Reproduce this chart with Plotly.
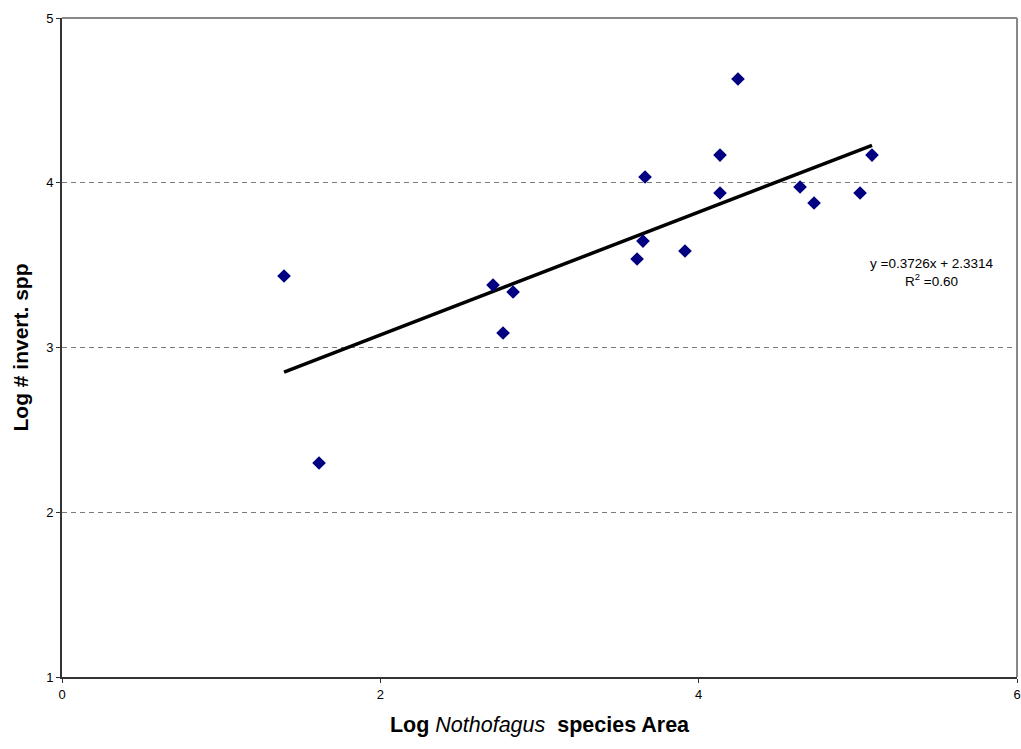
import plotly.graph_objects as go

log_area = [1.395, 1.615, 2.708, 2.771, 2.834, 3.613, 3.650, 3.663, 3.914,
            4.134, 4.134, 4.247, 4.637, 4.725, 5.014, 5.089]
log_spp = [3.434, 2.299, 3.379, 3.088, 3.337, 3.537, 3.646, 4.035, 3.586,
           3.938, 4.168, 4.630, 3.974, 3.877, 3.938, 4.168]
slope = 0.3726
intercept = 2.3314
r2 = 0.60

x_fit = [min(log_area), max(log_area)]
y_fit = [slope * v + intercept for v in x_fit]

fig = go.Figure()
fig.add_trace(go.Scatter(x=x_fit, y=y_fit, mode="lines",
                         line=dict(color="black", width=3.5), hoverinfo="skip",
                         showlegend=False))
fig.add_trace(go.Scatter(x=log_area, y=log_spp, mode="markers",
                         marker=dict(symbol="diamond", size=10.5, color="#000080",
                                     line=dict(width=0)),
                         showlegend=False))

fig.add_annotation(x=5.466, y=3.458, xref="x", yref="y",
                   text=f"y =0.3726x + 2.3314<br>R<sup>2</sup> ={r2:.2f}",
                   showarrow=False, align="center",
                   font=dict(family="Liberation Sans, Arial", size=13.5, color="black"))

font = dict(family="Liberation Sans, Arial", size=13, color="black")
fig.update_layout(
    width=1021, height=749,
    margin=dict(l=62, r=4, t=18, b=72),
    paper_bgcolor="white", plot_bgcolor="white",
    font=font,
    xaxis=dict(range=[0, 6], tickvals=[0, 2, 4, 6], showgrid=False,
               automargin=False, ticklabeloverflow="allow",
               showline=True, linecolor="#333333", linewidth=2, mirror=False,
               ticks="outside", ticklen=4, tickcolor="#333333", zeroline=False,
               title=dict(text="<b>Log </b><i>Nothofagus</i><b>  species Area</b>",
                          font=dict(family="Liberation Sans, Arial", size=21.5, color="black"),
                          standoff=16)),
    yaxis=dict(range=[1, 5], tickvals=[1, 2, 3, 4, 5], showgrid=True,
               automargin=False, ticklabeloverflow="allow",
               gridcolor="#7a7a7a", griddash="5px,4px", gridwidth=1,
               showline=True, linecolor="#333333", linewidth=2,
               ticks="outside", ticklen=4, tickcolor="#333333", zeroline=False,
               title=dict(text="<b>Log # invert. spp</b>",
                          font=dict(family="Liberation Sans, Arial", size=21, color="black"),
                          standoff=12)),
)
# top and right frame
fig.add_shape(type="line", xref="paper", yref="paper", x0=0, x1=1, y0=1, y1=1,
              line=dict(color="#888888", width=2))
fig.add_shape(type="line", xref="paper", yref="paper", x0=1, x1=1, y0=0, y1=1,
              line=dict(color="#888888", width=2))

fig.write_html("out.html")
